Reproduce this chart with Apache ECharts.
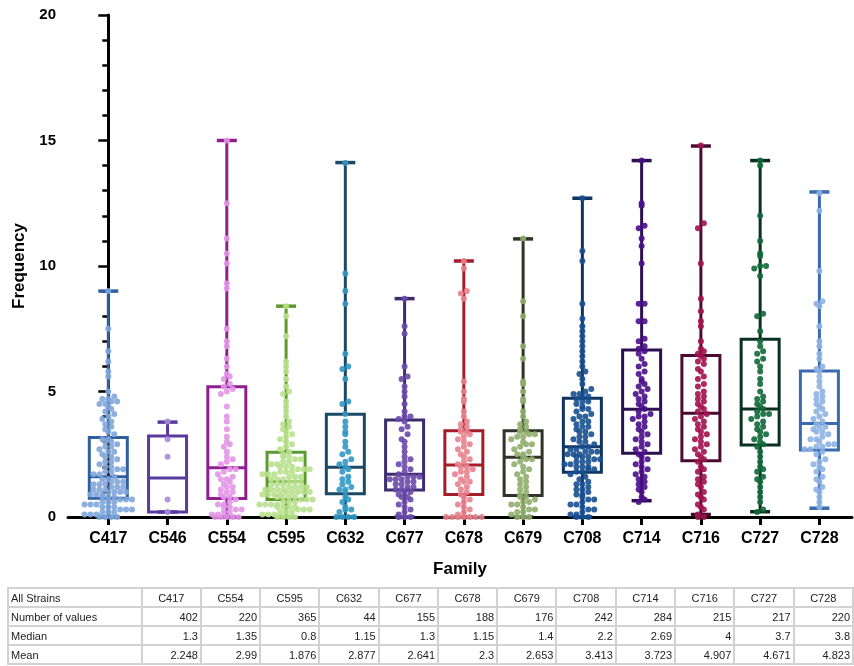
<!DOCTYPE html>
<html>
<head>
<meta charset="utf-8">
<script src="https://cdn.jsdelivr.net/npm/echarts@6/dist/echarts.min.js"></script>
<style>
  html, body { margin: 0; padding: 0; background: #fff; }
  #chart { width: 854px; height: 666px; position: absolute; left: 0; top: 0; }
  #tbl { position: absolute; left: 7px; top: 587px; width: 847px; overflow: hidden; }
  table { border-collapse: collapse; font-family: Arial, "Liberation Sans", sans-serif; font-size: 11px; color: #222; table-layout: fixed; }
  td { border: 2px solid #d2d2d2; height: 17px; padding: 0 2px; text-align: right; white-space: nowrap; }
  td.h { text-align: center; }
  td.first { text-align: left; width: 132px; }
  td.c { width: 56px; }
</style>
</head>
<body>
<div id="chart"></div>
<div id="tbl"></div>
<script>
// 家族名
var families = ['C417', 'C546', 'C554', 'C595', 'C632', 'C677', 'C678', 'C679', 'C708', 'C714', 'C716', 'C727', 'C728'];

// 箱线 [min, Q1, median, Q3, max]
var boxStats = [
  [0, 0.75, 1.6, 3.17, 9.0],
  [0.2, 0.2, 1.55, 3.23, 3.78],
  [0, 0.74, 1.96, 5.19, 15.0],
  [0, 0.7, 1.41, 2.58, 8.4],
  [0, 0.93, 1.98, 4.09, 14.12],
  [0, 1.08, 1.7, 3.86, 8.7],
  [0, 0.9, 2.07, 3.44, 10.2],
  [0, 0.86, 2.38, 3.44, 11.08],
  [0, 1.78, 2.8, 4.73, 12.7],
  [0.65, 2.54, 4.29, 6.65, 14.2],
  [0.1, 2.24, 4.13, 6.43, 14.78],
  [0.21, 2.87, 4.3, 7.08, 14.2],
  [0.35, 2.67, 3.73, 5.82, 12.95]
];

// 散点
var pts417 = [0,0,0,0,0.1,0.1,0.1,0.2,0.2,0.2,0.3,0.3,0.3,0.4,0.4,0.4,0.5,0.5,0.5,0.6,0.6,0.6,0.7,0.7,0.7,
  0.8,0.8,0.8,0.9,0.9,0.9,1.0,1.0,1.0,1.0,1.1,1.1,1.1,1.2,1.2,1.2,1.3,1.3,1.3,1.4,1.4,1.4,1.5,1.5,1.6,
  1.7,1.7,1.8,1.8,1.9,1.9,2.0,2.0,2.1,2.2,2.2,2.3,2.4,2.4,2.5,2.6,2.6,2.7,2.8,2.8,2.9,3.0,3.0,3.1,3.1,
  3.3,3.4,3.5,3.6,3.7,3.8,3.9,4.0,4.1,4.2,4.3,4.4,4.5,4.5,4.6,4.6,4.7,4.7,4.8,5.0,5.6,5.8,6.2,6.6,7.5,9.0];
var pts546 = [0.2, 0.7, 2.4, 3.1, 3.8];
var pts554 = [0,0,0,0,0,0.1,0.1,0.2,0.2,0.3,0.3,0.4,0.4,0.5,0.5,0.6,0.7,
  0.8,0.8,0.9,1.0,1.0,1.1,1.2,1.2,1.3,1.4,1.5,1.5,1.6,1.7,1.8,1.9,1.9,
  2.1,2.2,2.3,2.4,2.6,2.8,2.9,3.0,3.2,3.5,3.8,4.0,4.4,4.9,5.0,5.1,5.2,
  5.3,5.5,5.6,5.7,6.0,6.3,6.8,7.0,7.5,9.1,9.3,10.1,10.5,11.1,12.5,15.0];
var pts595 = [0,0,0,0,0.1,0.1,0.1,0.2,0.2,0.2,0.3,0.3,0.3,0.4,0.4,0.4,0.4,0.5,0.5,0.5,0.5,0.6,0.6,0.6,0.7,0.7,0.7,
  0.8,0.8,0.8,0.8,0.9,0.9,0.9,0.9,1.0,1.0,1.0,1.0,1.0,1.1,1.1,1.1,1.1,1.2,1.2,1.2,1.2,1.3,1.3,1.3,1.4,1.4,1.4,
  1.5,1.5,1.5,1.6,1.6,1.6,1.7,1.7,1.7,1.8,1.8,1.8,1.9,1.9,1.9,2.0,2.0,2.0,2.1,2.1,2.2,2.2,2.3,2.3,2.4,2.4,2.5,
  2.6,2.7,2.8,2.9,3.0,3.1,3.2,3.3,3.4,3.5,3.6,3.7,3.8,4.0,4.2,4.4,4.6,4.9,5.0,5.2,5.5,5.8,6.0,6.2,7.2,8.0,8.4];
var pts632 = [0,0,0,0,0.2,0.3,0.3,0.4,0.6,0.7,0.8,1.0,1.1,1.1,1.2,1.3,1.4,1.5,1.6,1.8,1.9,2.0,2.1,2.2,
  2.3,2.5,2.6,2.8,3.0,3.3,3.4,3.6,3.8,4.1,4.5,4.6,5.5,5.9,6.0,6.5,8.5,9.0,9.7,14.1];
var pts677 = [0,0,0,0.1,0.2,0.3,0.4,0.5,0.6,0.7,0.8,0.8,0.9,1.0,1.0,
  1.1,1.1,1.2,1.2,1.3,1.3,1.4,1.4,1.5,1.5,1.5,1.6,1.6,1.6,1.7,
  1.8,1.9,2.0,2.1,2.2,2.3,2.4,2.6,2.8,3.0,3.1,3.3,3.5,3.6,3.8,
  3.9,4.0,4.0,4.2,4.5,4.8,5.0,5.2,5.5,5.6,6.0,7.3,7.6,8.7];
var pts678 = [0,0,0,0,0,0,0,0.1,0.2,0.3,0.4,0.5,0.6,0.7,0.8,
  0.9,1.0,1.1,1.2,1.3,1.4,1.4,1.5,1.6,1.7,1.8,1.8,1.9,2.0,2.0,
  2.1,2.2,2.3,2.4,2.5,2.6,2.7,2.8,2.9,3.0,3.1,3.2,3.3,3.4,3.4,
  3.5,3.6,3.7,3.8,4.0,4.2,4.6,4.7,5.0,5.4,8.7,8.9,9.0,9.9,10.2];
var pts679 = [0,0,0,0.1,0.2,0.2,0.3,0.3,0.4,0.5,0.5,0.6,0.6,0.7,0.8,0.8,
  0.9,1.0,1.1,1.2,1.3,1.4,1.5,1.6,1.7,1.8,1.9,2.0,2.1,2.2,2.3,2.3,
  2.4,2.5,2.5,2.6,2.7,2.8,2.9,2.9,3.0,3.1,3.2,3.2,3.3,3.3,3.4,3.4,
  3.5,3.6,3.7,3.8,4.0,4.2,4.6,4.7,5.0,5.3,5.4,6.3,6.8,8.0,8.6,11.1];
var pts708 = [0,0,0,0.1,0.1,0.2,0.3,0.3,0.4,0.5,0.5,0.6,0.7,0.7,0.8,0.9,0.9,1.0,1.1,1.1,1.2,1.3,1.3,1.4,1.5,1.6,1.7,
  1.8,1.8,1.9,1.9,2.0,2.0,2.0,2.1,2.1,2.2,2.2,2.2,2.3,2.3,2.4,2.4,2.4,2.5,2.5,2.5,2.6,2.6,2.6,2.7,2.7,2.8,2.8,
  2.9,3.0,3.0,3.1,3.2,3.2,3.3,3.4,3.4,3.5,3.6,3.6,3.7,3.8,3.8,3.9,4.0,4.0,4.1,4.2,4.3,4.3,4.4,4.5,4.6,4.6,4.7,
  4.8,4.8,4.9,4.9,5.0,5.1,5.3,5.5,5.7,5.8,6.0,6.2,6.4,6.6,6.8,7.0,7.2,7.4,7.6,7.9,8.5,10.2,10.6,12.7];
var pts714 = [0.6,0.7,0.8,1.0,1.1,1.2,1.3,1.4,1.5,1.6,1.7,1.8,1.9,2.0,2.1,2.2,2.3,2.4,2.5,
  2.6,2.7,2.8,2.9,3.0,3.1,3.2,3.3,3.4,3.5,3.6,3.7,3.8,3.9,4.0,4.0,4.1,4.2,4.3,
  4.4,4.5,4.6,4.7,4.8,4.9,5.0,5.1,5.2,5.3,5.4,5.5,5.7,5.8,6.0,6.1,6.3,6.5,6.6,
  6.7,6.8,7.0,7.1,7.8,7.8,8.5,8.5,10.1,10.8,11.1,11.5,11.6,12.4,12.5,14.2];
var pts716 = [0,0,0.1,0.3,0.4,0.5,0.7,0.8,0.9,1.0,1.2,1.3,1.4,1.5,1.6,1.8,1.9,2.0,2.2,
  2.3,2.4,2.5,2.6,2.7,2.8,2.9,3.0,3.1,3.2,3.3,3.4,3.5,3.6,3.7,3.8,3.9,4.0,4.1,
  4.2,4.3,4.4,4.5,4.6,4.7,4.8,4.9,5.0,5.2,5.3,5.5,5.6,5.8,5.9,6.1,6.2,6.3,6.4,
  6.5,6.6,6.7,7.0,7.6,7.8,8.2,8.7,10.1,11.5,11.7,14.8];
var pts727 = [0.2,0.3,0.6,0.8,1.0,1.2,1.4,1.5,1.6,1.8,1.9,2.0,2.2,2.4,2.6,2.8,
  2.9,3.0,3.1,3.2,3.3,3.4,3.5,3.6,3.7,3.8,3.9,4.0,4.1,4.1,4.2,4.3,
  4.4,4.5,4.6,4.7,4.8,5.0,5.3,5.5,5.8,6.0,6.2,6.3,6.5,6.6,6.8,7.0,
  7.4,8.0,8.1,9.6,9.9,10.0,10.0,10.4,10.5,11.0,12.0,14.0,14.2];
var pts728 = [0.4,0.6,0.8,1.0,1.1,1.2,1.4,1.5,1.6,1.8,1.9,2.0,2.1,2.2,2.3,2.5,2.6,
  2.7,2.7,2.8,2.8,2.9,2.9,3.0,3.1,3.1,3.2,3.3,3.4,3.4,3.5,3.6,3.6,3.7,
  3.8,3.9,4.0,4.1,4.2,4.3,4.4,4.5,4.6,4.7,4.8,4.9,5.0,5.2,5.4,5.6,5.8,
  5.9,6.0,6.3,6.5,6.8,7.0,7.6,8.4,8.5,8.6,9.8,12.2,12.9];
var pointSets = [pts417, pts546, pts554, pts595, pts632, pts677, pts678, pts679, pts708, pts714, pts716, pts727, pts728];

// 表格
var tableCols = ['C417', 'C554', 'C595', 'C632', 'C677', 'C678', 'C679', 'C708', 'C714', 'C716', 'C727', 'C728'];
var nValues = [402, 220, 365, 44, 155, 188, 176, 242, 284, 215, 217, 220];
var medians = ['1.3', '1.35', '0.8', '1.15', '1.3', '1.15', '1.4', '2.2', '2.69', '4', '3.7', '3.8'];
var means = ['2.248', '2.99', '1.876', '2.877', '2.641', '2.3', '2.653', '3.413', '3.723', '4.907', '4.671', '4.823'];

var boxColors = ['#2f5f9e', '#5a3aa0', '#8f1f8f', '#5c9a2e', '#1b4a66', '#3b2d6e', '#a31d2b', '#2f3329', '#10355e', '#2c1050', '#4b0a32', '#08311f', '#3a6bb0'];
var dotColors = ['#7fa6da', '#a98bd8', '#e396e8', '#b8e08c', '#3398c4', '#6a4aaa', '#e8838e', '#8fae6c', '#174f8f', '#4b0e8c', '#a3124f', '#0f6a3a', '#8db2e2'];

var FONT = 'Arial, "Liberation Sans", sans-serif';

// 蜂群排布：同一高度的点左右展开
function swarm(vals, idx) {
  var bins = {};
  vals.forEach(function (v) {
    var b = Math.round(v / 0.2);
    (bins[b] = bins[b] || []).push(v);
  });
  var out = [];
  Object.keys(bins).forEach(function (b) {
    var arr = bins[b];
    for (var j = 0; j < arr.length; j++) {
      out.push([idx + (j - (arr.length - 1) / 2) * 0.1, arr[j]]);
    }
  });
  return out;
}

var myChart = echarts.init(document.getElementById('chart'));

var boxData = boxStats.map(function (s, i) { return [i].concat(s); });

var series = [{
  type: 'custom',
  z: 2,
  data: boxData,
  encode: { x: 0, y: [1, 2, 3, 4, 5] },
  renderItem: function (params, api) {
    var x = api.value(0);
    var p = [1, 2, 3, 4, 5].map(function (d) { return api.coord([x, api.value(d)]); });
    var cx = p[0][0];
    var half = 19, cap = 10;
    var col = boxColors[params.dataIndex];
    var ls = { stroke: col, lineWidth: 3, fill: null };
    return {
      type: 'group',
      children: [
        { type: 'line', shape: { x1: cx, y1: p[0][1], x2: cx, y2: p[1][1] }, style: ls },
        { type: 'line', shape: { x1: cx, y1: p[3][1], x2: cx, y2: p[4][1] }, style: ls },
        { type: 'line', shape: { x1: cx - cap, y1: p[4][1], x2: cx + cap, y2: p[4][1] }, style: { stroke: col, lineWidth: 3.5 } },
        { type: 'line', shape: { x1: cx - cap, y1: p[0][1], x2: cx + cap, y2: p[0][1] }, style: { stroke: col, lineWidth: 3.5 } },
        { type: 'rect', shape: { x: cx - half, y: p[3][1], width: half * 2, height: p[1][1] - p[3][1] }, style: ls },
        { type: 'line', shape: { x1: cx - half, y1: p[2][1], x2: cx + half, y2: p[2][1] }, style: ls }
      ]
    };
  }
}];

pointSets.forEach(function (vals, i) {
  series.push({
    type: 'scatter',
    z: 3,
    symbolSize: 6,
    itemStyle: { color: dotColors[i], opacity: 0.9 },
    data: swarm(vals, i)
  });
});

var ticks = families.map(function (f, i) { return i; });

var option = {
  animation: false,
  backgroundColor: '#fff',
  grid: { left: 68, right: 2, top: 15, bottom: 149 },
  xAxis: {
    type: 'value',
    min: -0.68,
    max: 12.55,
    name: 'Family',
    nameLocation: 'middle',
    nameGap: 44,
    nameTextStyle: { fontFamily: FONT, fontSize: 17, fontWeight: 'bold', color: '#000' },
    axisLine: { lineStyle: { color: '#000', width: 3 } },
    axisTick: { customValues: ticks, length: 8, lineStyle: { color: '#000', width: 3 } },
    axisLabel: {
      customValues: ticks,
      margin: 14,
      fontFamily: FONT, fontSize: 16, fontWeight: 'bold', color: '#000',
      formatter: function (v) { return families[Math.round(v)]; }
    },
    splitLine: { show: false }
  },
  yAxis: {
    type: 'value',
    min: 0,
    max: 20,
    interval: 5,
    name: 'Frequency',
    nameLocation: 'middle',
    nameGap: 40,
    nameTextStyle: { fontFamily: FONT, fontSize: 17, fontWeight: 'bold', color: '#000' },
    axisLine: { show: true, lineStyle: { color: '#000', width: 3 } },
    axisTick: { show: true, length: 10, lineStyle: { color: '#000', width: 2.5 } },
    minorTick: { show: true, splitNumber: 5, length: 6, lineStyle: { color: '#000', width: 2.5 } },
    axisLabel: { margin: 12, fontFamily: FONT, fontSize: 15, fontWeight: 'bold', color: '#000' },
    splitLine: { show: false }
  },
  series: series
};

myChart.setOption(option);

// 表格
var html = '<table><tr><td class="first">All Strains</td>';
tableCols.forEach(function (c) { html += '<td class="h c">' + c + '</td>'; });
html += '</tr><tr><td class="first">Number of values</td>';
nValues.forEach(function (v) { html += '<td class="c">' + v + '</td>'; });
html += '</tr><tr><td class="first">Median</td>';
medians.forEach(function (v) { html += '<td class="c">' + v + '</td>'; });
html += '</tr><tr><td class="first">Mean</td>';
means.forEach(function (v) { html += '<td class="c">' + v + '</td>'; });
html += '</tr></table>';
document.getElementById('tbl').innerHTML = html;
</script>
</body>
</html>
